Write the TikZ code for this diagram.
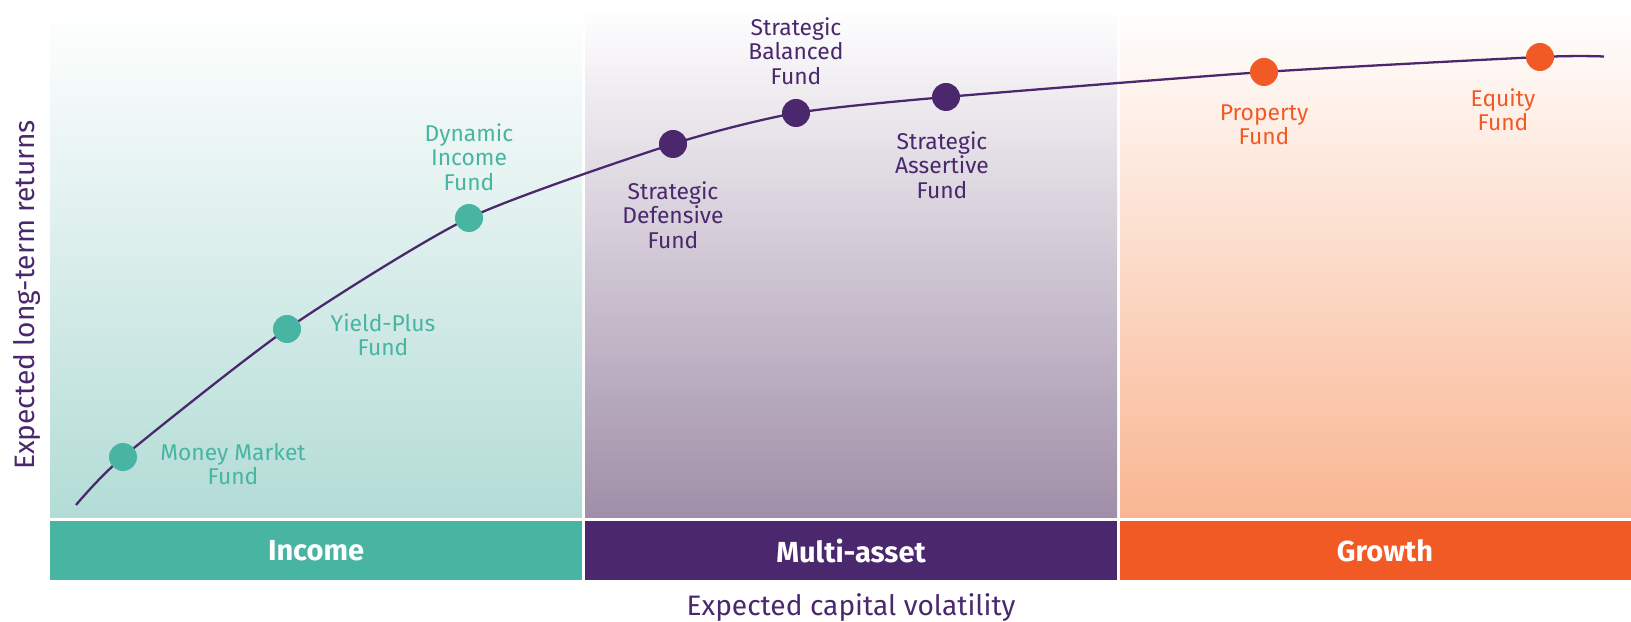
\documentclass[tikz,border=0pt]{standalone}
\usepackage{fontspec}
\setmainfont{Fira Sans}
\usetikzlibrary{positioning}

\definecolor{incometeal}{HTML}{48B5A3}
\definecolor{multipurple}{HTML}{4B286D}
\definecolor{growthorange}{HTML}{F15A24}
\definecolor{incomelight}{HTML}{B3DCD6}
\definecolor{multilight}{HTML}{A08EA8}
\definecolor{growthlight}{HTML}{F9B692}

\begin{document}
\begin{tikzpicture}[x = 0.2mm, y = -0.2mm,
    funddot/.style = {circle, inner sep = 0, minimum size = 5.6mm},
    fundlabel/.style = {align = center, font = \fontsize{13}{13.9}\selectfont},
    bandlabel/.style = {text = white, font = \fontsize{16.5}{18}\selectfont\bfseries},
    axislabel/.style = {text = multipurple, font = \fontsize{16}{18}\selectfont}]

    \useasboundingbox [fill = white] (0,0) rectangle (1631,622);

    \shade [top color = white, bottom color = incomelight] (50,8) rectangle (582,518);
    \shade [top color = white, bottom color = multilight] (585,8) rectangle (1117,518);
    \shade [top color = white, bottom color = growthlight] (1120,8) rectangle (1631,518);

    \path [fill = incometeal]   (50,521) rectangle (582,580);
    \path [fill = multipurple]  (585,521) rectangle (1117,580);
    \path [fill = growthorange] (1120,521) rectangle (1631,580);

    \node [bandlabel] (income) at (316,551) {Income};
    \node [bandlabel] (multi)  at (851,551) {Multi-asset};
    \node [bandlabel] (growth) at (1385,551) {Growth};

    \coordinate (start) at (76,505);
    \coordinate (mm) at (123,457);
    \coordinate (yp) at (287,329);
    \coordinate (di) at (469,218);
    \coordinate (sd) at (673,144);
    \coordinate (sb) at (796,113);
    \coordinate (sa) at (946,97);
    \coordinate (pf) at (1264,72);
    \coordinate (ef) at (1540,57);
    \coordinate (end) at (1604,56.5);

    \draw [multipurple, line width = 1.3pt] plot [smooth, tension = 0.4] coordinates
        {(start) (mm) (yp) (di) (sd) (sb) (sa) (pf) (ef) (end)};

    \node [funddot, fill = incometeal]   (mmdot) at (mm) {};
    \node [funddot, fill = incometeal]   (ypdot) at (yp) {};
    \node [funddot, fill = incometeal]   (didot) at (di) {};
    \node [funddot, fill = multipurple]  (sddot) at (sd) {};
    \node [funddot, fill = multipurple]  (sbdot) at (sb) {};
    \node [funddot, fill = multipurple]  (sadot) at (sa) {};
    \node [funddot, fill = growthorange] (pfdot) at (pf) {};
    \node [funddot, fill = growthorange] (efdot) at (ef) {};

    \node [fundlabel, text = incometeal]   (mmlabel) at (233,464) {Money Market\\Fund};
    \node [fundlabel, text = incometeal]   (yplabel) at (383,335) {Yield-Plus\\Fund};
    \node [fundlabel, text = incometeal]   (dilabel) at (469,157) {Dynamic\\Income\\Fund};
    \node [fundlabel, text = multipurple]  (sdlabel) at (673,215) {Strategic\\Defensive\\Fund};
    \node [fundlabel, text = multipurple]  (sblabel) at (796,51)  {Strategic\\Balanced\\Fund};
    \node [fundlabel, text = multipurple]  (salabel) at (942,165) {Strategic\\Assertive\\Fund};
    \node [fundlabel, text = growthorange] (pflabel) at (1264,125) {Property\\Fund};
    \node [fundlabel, text = growthorange] (eflabel) at (1503,110) {Equity\\Fund};

    \node [axislabel, anchor = base] (xaxis) at (851,616) {Expected capital volatility};
    \node [axislabel, anchor = base, rotate = 90] (yaxis) at (35,295) {Expected long-term returns};
\end{tikzpicture}
\end{document}
